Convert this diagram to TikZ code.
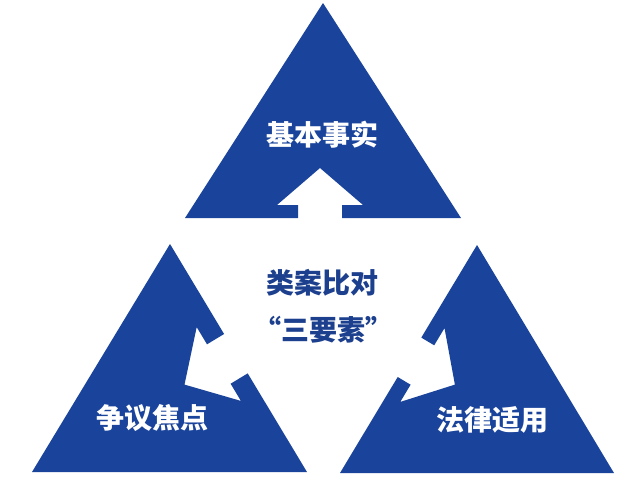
\documentclass[tikz,border=0pt]{standalone}
\usepackage{fontspec}
\newfontfamily\cjk{Noto Sans CJK SC}
\definecolor{tri}{HTML}{1A449B}
\definecolor{dtext}{HTML}{1C3F8E}
\tikzset{
  tribox/.style={fill=tri, draw=none},
  wlabel/.style={text=white, font=\cjk\bfseries\fontsize{28}{32}\selectfont, inner sep=0pt},
  blabel/.style={text=dtext, font=\cjk\bfseries\fontsize{28}{32}\selectfont, inner sep=0pt}
}
\begin{document}
\begin{tikzpicture}[x=1pt,y=-1pt]
\useasboundingbox (0,0) rectangle (640,480);
\fill[white] (0,0) rectangle (640,480);
% top triangle with upward arrow notch
\path[tribox] (185,218) -- (298,218) -- (298,205) -- (277,205) -- (320,168) -- (363,205) -- (342,205) -- (342,218) -- (461,218) -- (323,3) -- cycle;
% bottom-left triangle, notch on right side
\path[tribox] (170,244) -- (224.1,334.0) -- (207.0,344.3) -- (196.7,327.1) -- (184.5,384.6) -- (240.9,400.9) -- (230.6,383.7) -- (247.7,373.4) -- (307,472) -- (32,472) -- cycle;
% bottom-right triangle, notch on left side
\path[tribox] (477,245) -- (614,473) -- (340,473) -- (397.7,377.0) -- (410.6,384.7) -- (400.3,401.9) -- (454.9,384.6) -- (444.5,328.1) -- (434.2,345.3) -- (421.3,337.6) -- cycle;
% labels
\node[wlabel] (fact) at (322,135) {基本事实};
\node[wlabel] (issue) at (152.5,418) {争议焦点};
\node[wlabel] (law) at (492,420) {法律适用};
\node[blabel] (title1) at (322,283) {类案比对};
\node[blabel] (title2) at (323,330) {“三要素”};
\end{tikzpicture}
\end{document}
